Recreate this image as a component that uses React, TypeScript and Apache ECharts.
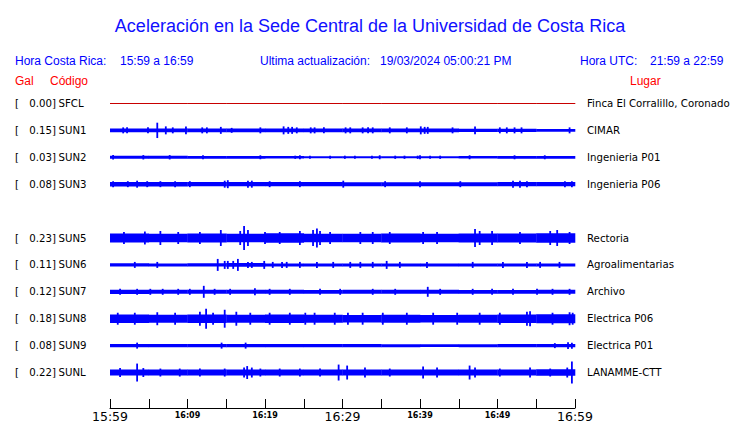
import React, { useEffect, useRef } from "react";
import * as echarts from "echarts";

// ---------- Texts ----------
const chartTitle = "Aceleración en la Sede Central de la Universidad de Costa Rica";
const horaCR = "15:59 a 16:59";
const actualizacion = "19/03/2024 05:00:21 PM";
const horaUTC = "21:59 a 22:59";

// ---------- Stations ----------
const codes = ["SFCL", "SUN1", "SUN2", "SUN3", "SUN5", "SUN6", "SUN7", "SUN8", "SUN9", "SUNL"];
const gal = ["0.00", "0.15", "0.03", "0.08", "0.23", "0.11", "0.12", "0.18", "0.08", "0.22"];
const places = [
  "Finca El Corralillo, Coronado",
  "CIMAR",
  "Ingenieria P01",
  "Ingenieria P06",
  "Rectoria",
  "Agroalimentarias",
  "Archivo",
  "Electrica P06",
  "Electrica P01",
  "LANAMME-CTT",
];
// trace row (row 4 is left empty)
const rowIndex = [0, 1, 2, 3, 5, 6, 7, 8, 9, 10];

// ---------- Time axis (minutes after 15:59) ----------
const tickLabels = ["15:59", "16:09", "16:19", "16:29", "16:39", "16:49", "16:59"];
const majorLabels = ["15:59", "16:29", "16:59"];

// ---------- Background amplitude (half-height) per 5-minute segment ----------
const envSFCL = [0, 0, 0, 0, 0, 0, 0, 0, 0, 0, 0, 0];
const envSUN1 = [1.8, 1.8, 1.8, 1.8, 1.8, 1.8, 1.8, 1.8, 1.8, 1.7, 1.6, 1.4];
const envSUN2 = [1.5, 1.5, 1.4, 1.4, 1.2, 1.1, 1.0, 1.0, 1.1, 1.3, 1.4, 1.4];
const envSUN3 = [2.3, 2.3, 2.2, 2.2, 2.2, 2.1, 2.0, 2.0, 2.0, 2.0, 2.1, 2.2];
const envSUN5 = [4.5, 4.3, 4.5, 4.3, 4.8, 4.3, 4.3, 4.5, 4.3, 4.5, 4.5, 4.8];
const envSUN6 = [1.6, 1.5, 1.6, 1.8, 1.5, 1.5, 1.5, 1.5, 1.5, 1.5, 1.5, 1.5];
const envSUN7 = [2.1, 2.0, 2.0, 2.0, 2.0, 1.9, 2.0, 2.0, 2.0, 1.9, 1.9, 2.0];
const envSUN8 = [4.2, 4.0, 4.2, 4.0, 4.3, 4.0, 3.8, 4.0, 3.8, 4.0, 4.3, 4.5];
const envSUN9 = [1.7, 1.7, 1.7, 1.7, 1.7, 1.7, 1.7, 1.5, 1.3, 1.5, 1.7, 1.7];
const envSUNL = [3.0, 3.0, 3.0, 3.0, 3.0, 3.0, 3.0, 3.0, 3.0, 3.0, 3.0, 3.2];

// ---------- Peaks [minute, half-amplitude] ----------
const peaksSFCL: number[][] = [];
const peaksSUN1 = [
  [1.7, 3], [2.2, 3], [4.9, 3], [6.1, 7.7], [7.2, 4], [8.1, 3], [9.8, 4], [11.9, 3], [12.5, 3],
  [14.3, 3.5], [15.7, 2.5], [19.4, 3], [22.4, 4], [23.0, 3.5], [23.5, 3.5], [24.1, 3], [25.9, 3],
  [26.4, 3], [27.6, 3], [30.4, 3], [31.0, 3], [32.6, 3], [33.3, 3], [33.9, 3], [36.1, 3], [38.3, 3],
  [40.1, 4], [40.6, 3.5], [41.0, 3.5], [44.2, 3], [47.1, 4], [50.3, 3], [51.2, 3], [52.2, 3],
  [53.1, 3], [59.3, 3],
];
const peaksSUN2 = [
  [0.4, 2.2], [4.3, 2.2], [7.7, 2.2], [12.0, 2], [19.4, 2], [23.9, 1.6], [24.5, 2], [25.8, 1.6],
  [28.4, 1.6], [30.3, 1.6], [31.6, 1.6], [33.8, 1.6], [34.8, 2], [36.8, 1.6], [38.0, 1.6],
  [39.7, 1.6], [40.0, 2], [41.3, 1.6], [42.6, 1.6], [46.4, 2], [52.2, 2], [56.1, 2],
];
const peaksSUN3 = [
  [0.4, 3], [2.3, 3], [3.5, 3.5], [4.8, 3], [6.5, 3], [8.4, 3], [10.3, 3], [14.8, 3.5], [15.2, 4],
  [17.8, 3.5], [18.3, 3.5], [20.6, 3], [24.5, 3], [30.1, 3.5], [35.5, 3], [40.0, 3], [45.2, 3],
  [52.0, 3.5], [52.9, 3.5], [53.8, 3], [58.7, 3], [59.6, 3],
];
const peaksSUN5 = [
  [1.8, 6], [4.5, 6.5], [6.5, 7], [8.8, 6], [11.6, 6], [14.3, 8], [16.8, 7], [17.3, 12], [17.8, 8],
  [20.0, 6], [21.9, 6], [24.5, 7], [26.2, 8], [26.7, 9.5], [27.1, 7], [28.4, 6], [32.3, 6],
  [33.9, 6], [36.1, 6], [40.4, 6], [42.2, 6], [47.1, 9], [47.7, 7], [49.3, 7], [52.9, 6],
  [56.8, 7], [57.7, 8], [59.3, 6],
];
const peaksSUN6 = [
  [3.2, 3], [6.1, 3], [13.9, 6], [14.8, 4], [15.2, 4], [15.9, 4], [16.5, 6], [17.8, 3], [18.3, 3],
  [19.9, 4], [21.0, 3], [22.2, 3], [22.8, 3], [24.5, 3], [26.7, 3], [28.8, 3], [31.0, 3], [32.3, 3],
  [33.9, 3], [35.7, 4], [37.4, 3], [40.9, 3], [46.8, 3], [50.7, 3], [53.8, 3], [55.5, 3], [58.0, 3],
];
const peaksSUN7 = [
  [1.3, 3], [3.5, 3], [5.2, 3], [6.8, 3], [8.8, 3], [10.3, 3], [12.1, 6], [13.5, 3], [15.5, 3],
  [18.7, 3.5], [20.6, 3], [23.2, 3], [27.1, 3], [29.7, 3], [33.9, 3], [36.8, 3], [41.0, 5],
  [42.6, 3], [46.8, 3], [49.3, 3], [52.0, 3], [55.1, 3], [57.1, 3], [59.3, 3],
];
const peaksSUN8 = [
  [1.0, 6], [3.2, 6], [6.1, 6.5], [8.4, 6], [11.6, 7], [12.4, 10], [13.3, 6], [14.8, 9], [16.3, 7],
  [18.1, 6], [20.6, 6], [23.2, 6], [25.2, 6], [26.4, 6], [29.0, 6], [30.7, 6], [32.6, 6], [35.2, 6],
  [38.3, 6], [41.7, 6], [44.8, 6], [47.7, 6], [50.3, 6], [53.8, 7], [54.2, 7.5], [57.1, 6],
  [59.3, 6.5], [59.7, 6],
];
const peaksSUN9 = [
  [3.5, 3], [14.4, 3], [17.5, 3], [57.4, 2.5], [59.1, 3.5], [59.6, 3],
];
const peaksSUNL = [
  [1.3, 4.5], [3.5, 9], [4.3, 4.5], [6.5, 4], [9.0, 4], [11.6, 4], [14.8, 4], [17.3, 5], [17.7, 6.5],
  [18.3, 5], [19.4, 4], [21.9, 4], [24.5, 4], [27.1, 4], [29.5, 8], [30.6, 7], [32.9, 5], [36.1, 4],
  [40.4, 6], [42.2, 5], [46.4, 7], [47.1, 5], [50.3, 4], [54.2, 5], [56.8, 4], [59.0, 5], [59.6, 11],
];

const envelopes = [envSFCL, envSUN1, envSUN2, envSUN3, envSUN5, envSUN6, envSUN7, envSUN8, envSUN9, envSUNL];
const peaks = [peaksSFCL, peaksSUN1, peaksSUN2, peaksSUN3, peaksSUN5, peaksSUN6, peaksSUN7, peaksSUN8, peaksSUN9, peaksSUNL];

// ---------- Styles ----------
const ROW = 27; // y-axis units between traces
const BLUE = "#0000ff";
const RED = "#ff0000";
const traceColor = (i: number) => (codes[i] === "SFCL" ? "#c80000" : BLUE);
const HEAD_FONT = "Liberation Sans, Arial, sans-serif";
const LABEL_FONT = "DejaVu Sans, sans-serif";

export default function App() {
  const ref = useRef<HTMLDivElement>(null);

  useEffect(() => {
    if (!ref.current) return;
    const chart = echarts.init(ref.current, null, { renderer: "svg" });

    const segData: number[][] = [];
    envelopes.forEach((env, s) => {
      const seg = 60 / env.length;
      env.forEach((a, k) => segData.push([k * seg, (k + 1) * seg, -rowIndex[s] * ROW, a, s]));
    });
    const peakData: number[][] = [];
    peaks.forEach((list, s) => {
      list.forEach(([t, a]) => peakData.push([t, -rowIndex[s] * ROW, a, s]));
    });
    const labelData = codes.map((_, s) => [0, -rowIndex[s] * ROW, s]);

    const headText = (x: number, y: number, text: string, fill: string, size = 12) => ({
      type: "text",
      x,
      y,
      style: { text, fill, fontSize: size, fontFamily: HEAD_FONT, verticalAlign: "middle", align: "left" },
    });

    chart.setOption({
      animation: false,
      backgroundColor: "#ffffff",
      title: {
        text: chartTitle,
        left: "center",
        top: 12,
        textStyle: { fontSize: 18, fontWeight: "normal", fontFamily: HEAD_FONT, color: "#1010ff" },
      },
      graphic: [
        headText(15, 61, "Hora Costa Rica:", BLUE),
        headText(120, 61, horaCR, BLUE),
        headText(260, 61, "Ultima actualización:", BLUE),
        headText(380, 61, actualizacion, BLUE),
        headText(580, 61, "Hora UTC:", BLUE),
        headText(650, 61, horaUTC, BLUE),
        headText(15, 81, "Gal", RED),
        headText(50, 81, "Código", RED),
        headText(630, 81, "Lugar", RED),
      ],
      grid: { left: 110, width: 465, top: 90, height: 297, containLabel: false },
      xAxis: {
        type: "value",
        min: 0,
        max: 60,
        interval: 5,
        offset: 22,
        axisLine: { show: true, onZero: false, lineStyle: { color: "#000", width: 1 } },
        axisTick: { show: true, inside: true, length: 9, lineStyle: { color: "#000", width: 1 } },
        splitLine: { show: false },
        axisLabel: {
          margin: 2,
          formatter: (v: number) => {
            if (v % 10 !== 0) return "";
            const lab = tickLabels[v / 10];
            return majorLabels.includes(lab) ? `{b|${lab}}` : `{s|${lab}}`;
          },
          rich: {
            b: { fontSize: 12.5, fontFamily: LABEL_FONT, color: "#000", letterSpacing: 0.3 },
            s: { fontSize: 8, fontFamily: LABEL_FONT, fontWeight: "bold", color: "#000", padding: [1.5, 0, 0, 0] },
          },
        },
      },
      yAxis: { type: "value", min: -283.5, max: 13.5, show: false },
      series: [
        {
          type: "custom",
          name: "envolvente",
          clip: false,
          data: segData,
          renderItem: (_p: any, api: any) => {
            const t0 = api.value(0), t1 = api.value(1), yc = api.value(2), a = api.value(3), s = api.value(4);
            const p0 = api.coord([t0, yc + a]);
            const p1 = api.coord([t1, yc - a]);
            let h = p1[1] - p0[1];
            let y = p0[1];
            if (h < 1) { y -= (1 - h) / 2; h = 1; }
            return { type: "rect", shape: { x: p0[0], y, width: p1[0] - p0[0] + 0.3, height: h }, style: { fill: traceColor(s) } };
          },
        },
        {
          type: "custom",
          name: "picos",
          clip: false,
          data: peakData,
          renderItem: (_p: any, api: any) => {
            const t = api.value(0), yc = api.value(1), a = api.value(2), s = api.value(3);
            const p0 = api.coord([t, yc + a]);
            const p1 = api.coord([t, yc - a]);
            return { type: "rect", shape: { x: p0[0] - 0.9, y: p0[1], width: 1.8, height: p1[1] - p0[1] }, style: { fill: traceColor(s) } };
          },
        },
        {
          type: "custom",
          name: "etiquetas",
          clip: false,
          data: labelData,
          renderItem: (_p: any, api: any) => {
            const yc = api.value(1), s = api.value(2);
            const y = api.coord([0, yc])[1];
            const st = (text: string, align: string) => ({ text, fill: "#000", fontSize: 10.2, fontFamily: LABEL_FONT, align, verticalAlign: "middle" });
            return {
              type: "group",
              children: [
                { type: "text", x: 15, y, style: st("[", "left") },
                { type: "text", x: 56, y, style: st(`${gal[s]}]`, "right") },
                { type: "text", x: 58.5, y, style: st(codes[s], "left") },
                { type: "text", x: 587, y, style: st(places[s], "left") },
              ],
            };
          },
        },
      ],
    });

    return () => chart.dispose();
  }, []);

  return <div ref={ref} style={{ position: "fixed", left: 0, top: 0, width: 740, height: 423 }} />;
}
